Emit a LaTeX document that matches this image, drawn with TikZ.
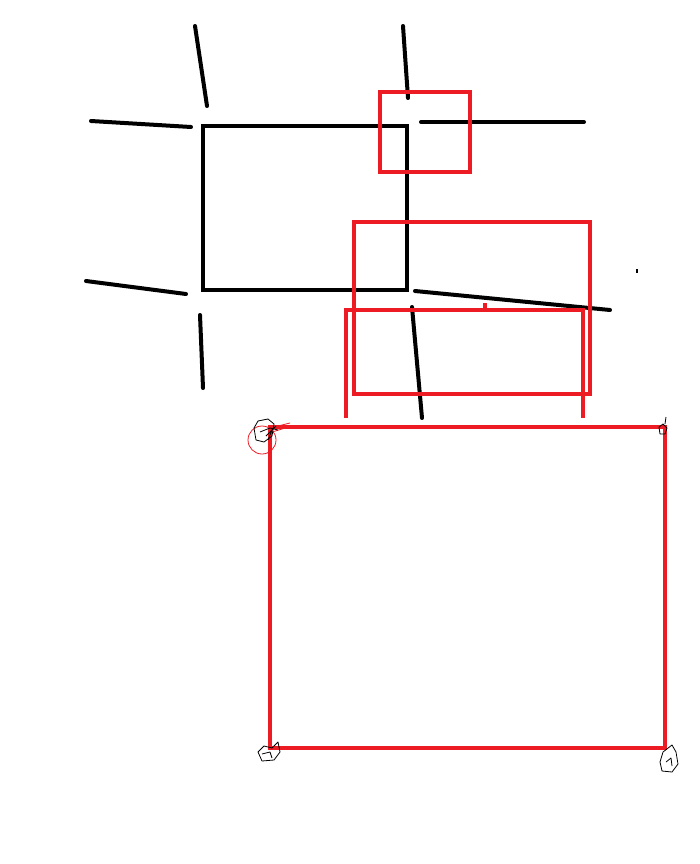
\documentclass[tikz,border=0pt]{standalone}
\usetikzlibrary{calc}
\definecolor{paintred}{HTML}{ED1C24}
\begin{document}
\begin{tikzpicture}[x=1pt,y=-1pt,
  pen/.style={line width=4pt, draw=black, line cap=round},
  redpen/.style={line width=4pt, draw=paintred},
  scrib/.style={line width=0.8pt, draw=black, line join=round},
  redscrib/.style={line width=0.8pt, draw=paintred},
]
\useasboundingbox (0,0) rectangle (700,864);

% --- black sketch: box with strokes round its corners ---
\def\xL{203}\def\xR{407}\def\yT{126}\def\yB{290}
\draw[pen, line cap=butt] (\xL,\yT) rectangle (\xR,\yB);

\draw[pen] (195,26) -- (207,106);
\draw[pen] (91,121) -- (191,127);
\draw[pen] (403,26) -- (408,98);
\draw[pen] (421,122) -- (584,122);
\draw[pen] (86,281) -- (186,294);
\draw[pen] (415,291) -- (610,310);
\draw[pen] (200,315) -- (203,388);
\draw[pen] (412,307) -- (422,418);
\fill (636,269) rectangle (638,273);

% --- red marks ---
\draw[redpen] (380,92) rectangle (470,172);
\draw[redpen] (354,222) rectangle (590,394);
\draw[redpen] (346,418) -- (346,310) -- (583,310) -- (583,418);
\draw[redpen] (485,303) -- (485,310);
\draw[redpen] (270,427) rectangle (665,748);

% --- cursor scribbles at the corners of the big box ---
\draw[redscrib] (262,440) circle (14);
\draw[redscrib] (272,432) -- (292,426);
\draw[redscrib] (270,428) -- (290,423);
\draw[scrib] (254,428) -- (258,421) -- (268,419) -- (274,424) -- (272,436) -- (264,442) -- (256,440) -- cycle;
\draw[scrib] (260,432) -- (270,428) -- (278,430);
\draw[scrib] (266,436) -- (276,426) (268,440) -- (272,430);

\draw[scrib] (659,427) -- (663,424) -- (667,428) -- (665,434) -- (660,434) -- cycle;
\draw[scrib] (665,424) -- (666,417);

\draw[scrib] (258,752) -- (264,746) -- (272,748) -- (278,742) -- (280,752) -- (274,760) -- (262,761) -- cycle;
\draw[scrib] (262,754) -- (270,752) -- (272,758);

\draw[scrib] (663,752) -- (672,745) -- (676,752) -- (678,764) -- (672,772) -- (662,771) -- (660,762) -- cycle;
\draw[scrib] (666,762) -- (671,758) -- (672,766);
\end{tikzpicture}
\end{document}
